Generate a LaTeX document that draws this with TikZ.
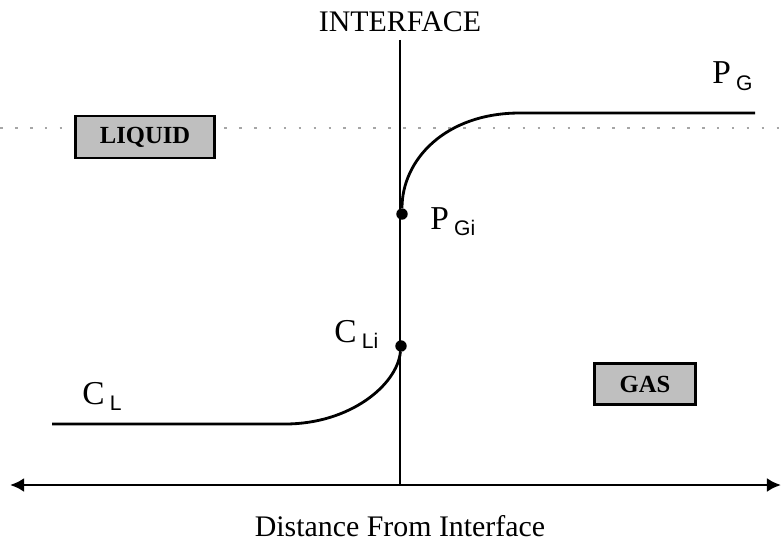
\documentclass[tikz,border=0pt]{standalone}
\usepackage{fontspec}
\setmainfont{Liberation Serif}
\newfontfamily\subfont{Liberation Sans}
\usetikzlibrary{arrows.meta}

\newcommand{\varsub}[2]{#1\hspace{3pt}\raisebox{-3.5pt}{\subfont\fontsize{12}{14}\selectfont #2}}

\begin{document}
\begin{tikzpicture}[x=0.02cm, y=-0.02cm,
    region/.style={draw, line width=1.2pt, fill=gray!50, inner sep=0pt,
                   font=\fontsize{14}{16}\selectfont\bfseries},
    lbl/.style={font=\fontsize{17}{20}\selectfont, inner sep=0pt},
    var/.style={font=\fontsize{19}{22}\selectfont, inner sep=0pt, anchor=base west},
    dot/.style={circle, fill=black, inner sep=0pt, minimum size=6.5pt},
    curve/.style={line width=1.6pt},
    arrow/.style={{Latex[length=8pt,width=8pt]}-{Latex[length=8pt,width=8pt]}, line width=1.6pt},
  ]
  \useasboundingbox (0,0) rectangle (783,544);

  % dotted reference level
  \coordinate (dl) at (0,128);
  \coordinate (dr) at (783,128);
  \draw[gray!70, line width=0.6pt, dash pattern=on 1.5pt off 7pt] (dl) -- (dr);

  \node[region, minimum width=2.78cm, minimum height=0.84cm] (liquid) at (145,137) {LIQUID};
  \node[region, minimum width=2.02cm, minimum height=0.82cm] (gas) at (645,384) {GAS};

  % interface
  \node[lbl] (iface) at (400,22) {INTERFACE};
  \coordinate (itop) at (400,40);
  \coordinate (ibot) at (400,485);
  \draw[line width=0.8pt] (itop) -- (ibot);

  % axis
  \coordinate (axl) at (10,485);
  \coordinate (axr) at (781,485);
  \draw[arrow] (axl) -- (axr);
  \node[lbl] (dist) at (400,526) {Distance From Interface};

  % gas side profile
  \node[dot] (pgi) at (402,214) {};
  \coordinate (pgend) at (755,113);
  \draw[curve] (pgi) .. controls (402,160) and (445,113) .. (520,113) -- (pgend);
  \node[var] (pgilbl) at (430,229) {\varsub{P}{Gi}};
  \node[var] (pglbl) at (712,84) {\varsub{P}{G}};

  % liquid side profile
  \node[dot] (cli) at (401,346) {};
  \coordinate (clend) at (52,424);
  \draw[curve] (cli) .. controls (397,385) and (350,424) .. (285,424) -- (clend);
  \node[var] (clilbl) at (334,342) {\varsub{C}{Li}};
  \node[var] (cllbl) at (82,404) {\varsub{C}{L}};
\end{tikzpicture}
\end{document}
